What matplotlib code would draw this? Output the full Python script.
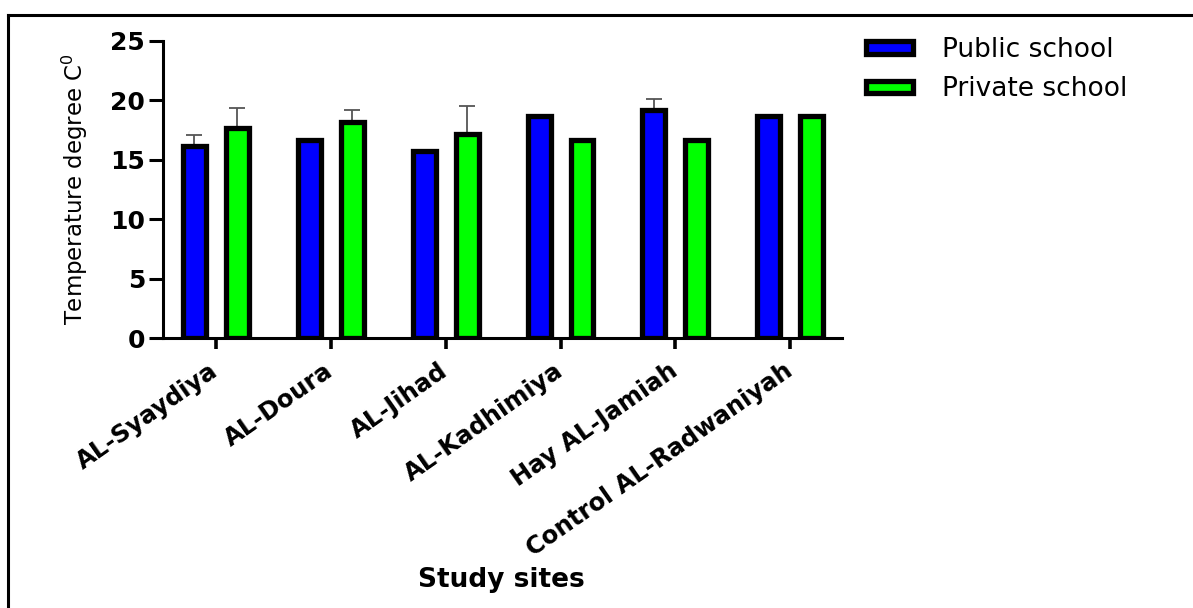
import numpy as np
import matplotlib.pyplot as plt
from matplotlib.lines import Line2D

plt.rcParams['font.family'] = ['DejaVu Sans']

sites = ["AL-Syaydiya", "AL-Doura", "AL-Jihad", "AL-Kadhimiya",
         "Hay AL-Jamiah", "Control AL-Radwaniyah"]
public = [16.2, 16.7, 15.7, 18.7, 19.2, 18.7]
private = [17.7, 18.2, 17.2, 16.7, 16.7, 18.7]
public_err = [0.9, 0.0, 0.0, 0.0, 0.95, 0.0]
private_err = [1.7, 0.95, 2.35, 0.0, 0.0, 0.0]

W, H = 1193, 608
fig = plt.figure(figsize=(W / 100, H / 100), dpi=100)
ax = fig.add_axes([163 / W, 1 - 338 / H, (842 - 163) / W, (338 - 41) / H])

x = np.arange(len(sites))
w = 0.2
off = 0.187
for xs, vals, errs, col, lab in [(x - off, public, public_err, "#0000ff", "Public school"),
                                 (x + off, private, private_err, "#00ff00", "Private school")]:
    ax.bar(xs, vals, width=w, color=col, edgecolor="black", linewidth=3.8,
           label=lab, zorder=2)
    # upper whisker only; the lower cap sits under the bar outline
    ax.errorbar(xs, vals, yerr=[np.zeros(len(errs)), errs], fmt="none",
                ecolor="#555555", elinewidth=1.3, capsize=5.5, capthick=1.3, zorder=1)

ax.set_xlim(-0.46, 5.45)
ax.set_ylim(0, 25)
ax.set_yticks([0, 5, 10, 15, 20, 25])
ax.set_xticks(x)
ax.set_xticklabels(sites, rotation=35, ha="right", va="center", rotation_mode="anchor",
                   fontsize=17.5, fontweight="bold")
for t in ax.get_yticklabels():
    t.set_fontsize(18)
    t.set_fontweight("bold")
ax.tick_params(axis="y", length=10, width=2.2, pad=3)
ax.tick_params(axis="x", length=8, width=2.6, pad=14)

for s in ["top", "right"]:
    ax.spines[s].set_visible(False)
for s in ["left", "bottom"]:
    ax.spines[s].set_linewidth(2.2)

ax.set_ylabel("Temperature degree C$^0$", fontsize=16.5, labelpad=14)
fig.text(501 / W, 1 - 580 / H, "Study sites", fontsize=19, fontweight="bold",
         ha="center", va="center")

ax.legend(loc="upper left", bbox_to_anchor=(866 / W, 1 - 37 / H), bbox_transform=fig.transFigure,
          frameon=False, fontsize=19, handlelength=1.78, handleheight=0.33,
          handletextpad=1.1, labelspacing=0.5, borderpad=0, borderaxespad=0)

# page frame
fig.add_artist(Line2D([8 / W, 8 / W], [0, 1 - 15 / H], color="black", lw=2.2))
fig.add_artist(Line2D([8 / W, 1], [1 - 15 / H, 1 - 15 / H], color="black", lw=2.2))

fig.savefig("out.png", dpi=100)
